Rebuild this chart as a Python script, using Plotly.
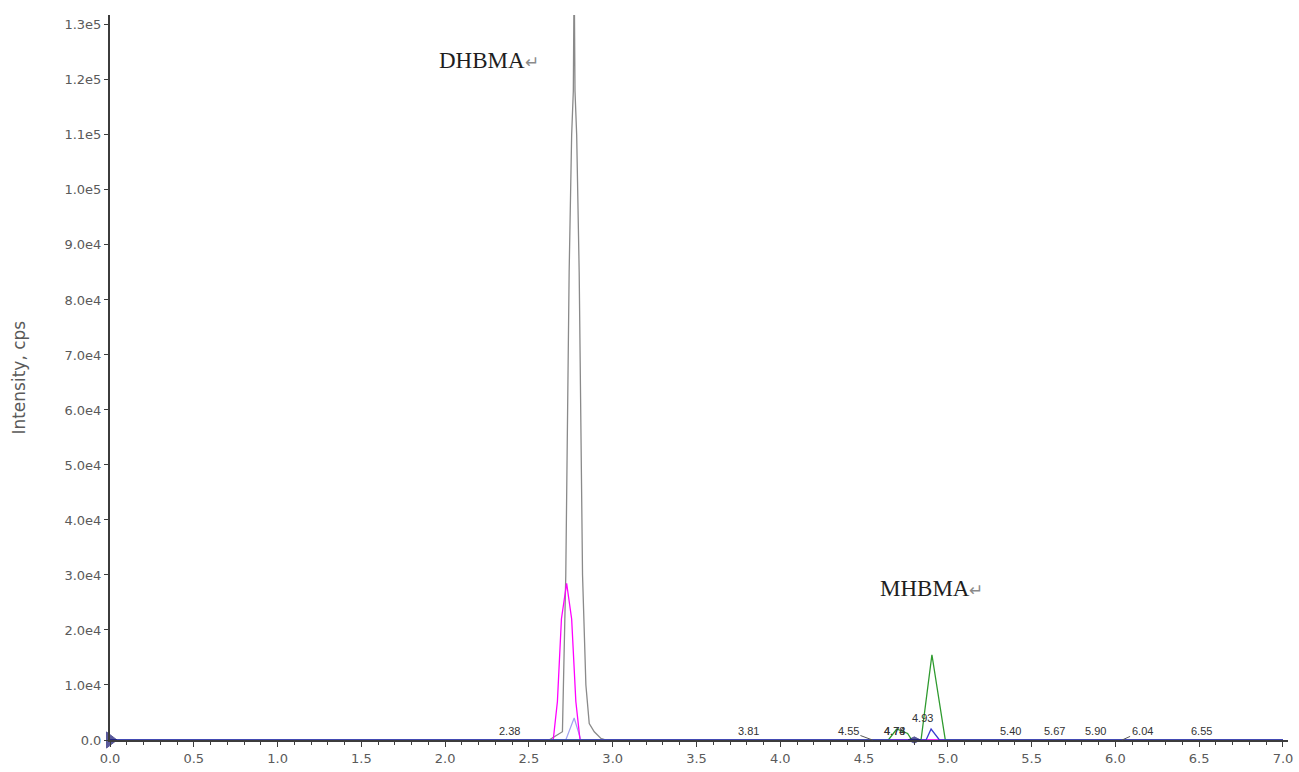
import plotly.graph_objects as go

# ---------------- data ----------------
# retention time (min) / intensity (cps)
gray_time = [0.0, 2.62, 2.70, 2.72, 2.74, 2.755, 2.765, 2.77, 2.775, 2.785, 2.80, 2.82, 2.84, 2.86, 2.89, 2.93, 2.96, 7.0]
gray_int = [0, 0, 1500, 30000, 85000, 110000, 118000, 140000, 118000, 110000, 85000, 30000, 10000, 3000, 1500, 300, 0, 0]

magenta_time = [0.0, 2.645, 2.67, 2.694, 2.725, 2.755, 2.78, 2.805, 7.0]
magenta_int = [0, 0, 7000, 22000, 28500, 22000, 7000, 0, 0]

lightblue_time = [0.0, 2.72, 2.77, 2.81, 7.0]
lightblue_int = [0, 0, 4000, 0, 0]

green_time = [0.0, 4.645, 4.695, 4.74, 4.76, 4.785, 4.84, 4.905, 4.985, 7.0]
green_int = [0, 0, 2000, 1400, 1200, 0, 0, 15500, 0, 0]

blue_time = [0.0, 4.87, 4.90, 4.95, 7.0]
blue_int = [0, 0, 2000, 0, 0]

marker_time = [0.0, 4.80]
marker_int = [0, 0]

peak_labels = ["2.38", "3.81", "4.55", "4.74", "4.78", "4.93", "5.40", "5.67", "5.90", "6.04", "6.55"]
peak_times = [2.38, 3.81, 4.55, 4.74, 4.78, 4.93, 5.40, 5.67, 5.90, 6.04, 6.55]

compound_names = ["DHBMA", "MHBMA"]
compound_time = [2.26, 4.90]
compound_int = [123500, 27600]

ytick_vals = [0, 10000, 20000, 30000, 40000, 50000, 60000, 70000, 80000, 90000, 100000, 110000, 120000, 130000]
ytick_text = ["0.0", "1.0e4", "2.0e4", "3.0e4", "4.0e4", "5.0e4", "6.0e4", "7.0e4", "8.0e4", "9.0e4",
              "1.0e5", "1.1e5", "1.2e5", "1.3e5"]

# ---------------- styling ----------------
label_xshift = {"2.38": 1, "3.81": 0, "4.55": -24, "4.74": -10, "4.78": -16, "4.93": -14,
                "5.40": -4, "5.67": -6, "5.90": -3, "6.04": 20, "6.55": -6}
label_yshift = {"4.93": 22}
leader_labels = {"4.55", "6.04"}

AXIS_COLOR = "#3c3c3c"
TICK_FONT = dict(family="DejaVu Sans", size=13, color="#5a5a5a")

fig = go.Figure()

fig.add_trace(go.Scatter(x=gray_time, y=gray_int, mode="lines",
                         line=dict(color="#8a8a8a", width=1.3), showlegend=False))
fig.add_trace(go.Scatter(x=lightblue_time, y=lightblue_int, mode="lines",
                         line=dict(color="#a0a0f0", width=1.2), showlegend=False))
fig.add_trace(go.Scatter(x=magenta_time, y=magenta_int, mode="lines",
                         line=dict(color="#ff00ff", width=1.3), showlegend=False))
fig.add_trace(go.Scatter(x=green_time, y=green_int, mode="lines",
                         line=dict(color="#2e9a2e", width=1.3), showlegend=False))
fig.add_trace(go.Scatter(x=blue_time, y=blue_int, mode="lines",
                         line=dict(color="#3a3ad0", width=1.3), showlegend=False))
fig.add_trace(go.Scatter(x=marker_time, y=marker_int, mode="markers",
                         marker=dict(color="#141470", size=[14, 9], symbol=["triangle-right", "diamond-wide"],
                                     line=dict(color="#141470", width=1)),
                         cliponaxis=False, showlegend=False))

for lab, t in zip(peak_labels, peak_times):
    if lab in leader_labels:
        fig.add_annotation(x=t, y=0, text=lab, showarrow=True, arrowhead=0, arrowwidth=1,
                           arrowcolor="#555555", ax=label_xshift[lab], ay=-9,
                           font=dict(family="Liberation Sans", size=11, color="#333333"))
    else:
        fig.add_annotation(x=t, y=0, text=lab, showarrow=False,
                           xshift=label_xshift[lab], yshift=label_yshift.get(lab, 9),
                           font=dict(family="Liberation Sans", size=11, color="#333333"))

for name, t, v in zip(compound_names, compound_time, compound_int):
    fig.add_annotation(x=t, y=v, showarrow=False,
                       text=name + "<span style='font-size:17px;color:#8a8a8a'>↵</span>",
                       font=dict(family="Liberation Serif", size=23, color="#1e1e1e"))

fig.add_annotation(xref="paper", yref="paper", x=-0.078, y=0.5, xanchor="center", yanchor="middle",
                   text="Intensity, cps", textangle=-90, showarrow=False,
                   font=dict(family="DejaVu Sans", size=17, color="#5a5a5a"))

fig.update_layout(
    width=1299, height=772,
    margin=dict(l=110, r=6, t=15, b=26),
    plot_bgcolor="white", paper_bgcolor="white",
    xaxis=dict(range=[0, 7.03], showgrid=False, zeroline=False,
               showline=True, linecolor=AXIS_COLOR, linewidth=2,
               ticks="outside", ticklen=5, tickwidth=1, tickcolor=AXIS_COLOR,
               dtick=0.5, tick0=0, tickformat=".1f", tickfont=TICK_FONT,
               minor=dict(dtick=0.1, ticks="outside", ticklen=3, tickcolor=AXIS_COLOR, showgrid=False)),
    yaxis=dict(range=[0, 131800], showgrid=False, zeroline=False,
               showline=True, linecolor=AXIS_COLOR, linewidth=2,
               ticks="outside", ticklen=4, tickwidth=1, tickcolor=AXIS_COLOR,
               tickvals=ytick_vals, ticktext=ytick_text, tickfont=TICK_FONT),
)

fig.write_html("out.html", config={"displayModeBar": False},
               post_script="document.body.style.margin='0';document.body.style.overflow='hidden';")
